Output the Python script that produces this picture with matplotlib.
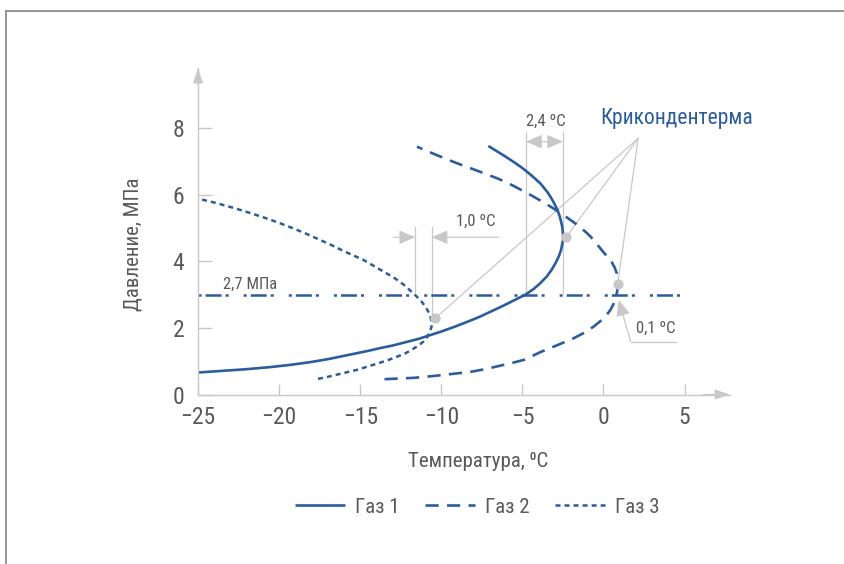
import matplotlib
matplotlib.use("Agg")
import matplotlib.pyplot as plt
from matplotlib import font_manager as fm
from matplotlib.lines import Line2D

# ---------------- data ----------------
gas1_t = [-25.0, -23.5, -22.0, -20.6, -19.3, -18.1, -17.0, -16.1, -15.2, -14.5, -13.8, -13.0,
          -12.2, -11.4, -10.7, -10.0, -9.2, -8.4, -7.6, -6.9, -6.2, -5.5, -4.8, -4.3,
          -3.9, -3.5, -3.2, -2.95, -2.76, -2.62, -2.55, -2.50, -2.49, -2.51, -2.55, -2.62,
          -2.70, -2.86, -3.05, -3.25, -3.45, -3.68, -3.90, -4.20, -4.50, -4.80, -5.12,
          -5.60, -6.10, -6.60, -7.10]
gas1_p = [0.66, 0.71, 0.76, 0.82, 0.89, 0.97, 1.06, 1.15, 1.24, 1.31, 1.39, 1.47,
          1.57, 1.67, 1.78, 1.89, 2.03, 2.18, 2.34, 2.50, 2.66, 2.83, 3.00, 3.17,
          3.34, 3.54, 3.74, 3.95, 4.14, 4.33, 4.50, 4.62, 4.74, 4.90, 5.05, 5.20,
          5.35, 5.56, 5.75, 5.92, 6.07, 6.21, 6.34, 6.47, 6.60, 6.72, 6.84,
          7.00, 7.16, 7.31, 7.46]

gas2_t = [-13.5, -12.6, -11.7, -10.8, -10.0, -9.1, -8.2, -7.3, -6.5, -5.7, -4.9, -3.9,
          -2.9, -1.83, -1.2, -0.6, -0.2, 0.15, 0.43, 0.62, 0.76, 0.84, 0.88, 0.87,
          0.82, 0.68, 0.50, 0.23, -0.05, -0.3, -0.55, -0.8, -1.1, -1.4, -1.7, -2.04,
          -2.6, -3.2, -3.85, -4.5, -5.0, -5.5, -6.0, -6.56, -7.2, -7.8, -8.4, -9.03,
          -9.7, -10.3, -10.9, -11.5]
gas2_p = [0.46, 0.48, 0.50, 0.54, 0.58, 0.63, 0.68, 0.76, 0.85, 0.94, 1.04, 1.27,
          1.47, 1.69, 1.85, 2.04, 2.20, 2.36, 2.54, 2.72, 2.90, 3.08, 3.30, 3.47,
          3.64, 3.82, 3.98, 4.14, 4.30, 4.45, 4.60, 4.74, 4.88, 5.00, 5.12, 5.24,
          5.43, 5.62, 5.81, 5.99, 6.12, 6.25, 6.37, 6.49, 6.61, 6.72, 6.83, 6.94,
          7.07, 7.19, 7.31, 7.44]

gas3_t = [-17.6, -17.0, -16.4, -15.8, -15.2, -14.6, -14.0, -13.3, -12.7, -12.2, -11.8,
          -11.4, -11.1, -10.9, -10.8, -10.68, -10.6, -10.62, -10.7, -10.95, -11.3, -11.8,
          -12.3, -12.9, -13.6, -14.2, -14.8, -15.4, -16.0, -16.8, -17.7, -18.4, -19.2,
          -20.0, -20.8, -21.8, -22.8, -23.9, -25.0]
gas3_p = [0.47, 0.53, 0.60, 0.67, 0.74, 0.83, 0.92, 1.03, 1.14, 1.24, 1.35,
          1.47, 1.59, 1.70, 1.80, 1.92, 2.04, 2.22, 2.39, 2.62, 2.84, 3.07,
          3.29, 3.50, 3.70, 3.87, 4.04, 4.17, 4.30, 4.49, 4.69, 4.84, 5.00,
          5.15, 5.29, 5.45, 5.60, 5.75, 5.88]

line_p = 3.0                      # level of the dash-dot line
line_t = [-25.0, 5.0]

crico_t = [-10.37, -2.30, 0.88]   # cricondentherm markers
crico_p = [2.29, 4.72, 3.32]

legend_labels = ["Газ 1", "Газ 2", "Газ 3"]
x_ticks = [-25, -20, -15, -10, -5, 0, 5]
y_ticks = [0, 2, 4, 6, 8]

# ---------------- font: prefer a narrow / condensed face ----------------
def pick_condensed():
    prefs = ["Liberation Sans Narrow", "Roboto Condensed", "Noto Sans Condensed",
             "Open Sans Condensed", "DejaVu Sans Condensed"]
    cands = []
    for f in fm.fontManager.ttflist:
        nm = f.name.lower()
        fn = f.fname.lower()
        cond = ("narrow" in nm or "condensed" in nm or "condensed" in fn or "narrow" in fn
                or str(f.stretch) in ("condensed", "semi-condensed", "extra-condensed"))
        if cond and f.style == "normal" and f.weight in (400, "normal", "regular") \
                and "bold" not in fn and "light" not in fn and "oblique" not in fn:
            cands.append(f)
    for p in prefs:
        for f in cands:
            if f.name == p:
                return f
    return cands[0] if cands else None

cf = pick_condensed()
if cf is not None:
    fm.fontManager.addfont(cf.fname)
    main_family = fm.FontProperties(fname=cf.fname).get_name()
    plt.rcParams["font.family"] = [main_family, "DejaVu Sans"]
    plt.rcParams["font.stretch"] = cf.stretch
else:
    plt.rcParams["font.family"] = ["DejaVu Sans"]
plt.rcParams["lines.scale_dashes"] = False

BLUE = "#2b5c9b"
TXT = "#595959"
GRAY = "#c8c8c8"

fig = plt.figure(figsize=(8.45, 5.64), dpi=100)
ax = fig.add_axes([198 / 845, 1 - 394.5 / 564, (730 - 198) / 845, (394.5 - 68) / 564])
ax.set_xlim(-25, 7.8)
ax.set_ylim(0, 9.8)

# frame of the picture
fig.add_artist(Line2D([6 / 845, 1.0], [1 - 11 / 564, 1 - 11 / 564], color="#8c8c8c", lw=1.3,
                      transform=fig.transFigure))
fig.add_artist(Line2D([6 / 845, 6 / 845], [0, 1 - 11 / 564], color="#8c8c8c", lw=1.3,
                      transform=fig.transFigure))

# axes
for s in ["top", "right"]:
    ax.spines[s].set_visible(False)
for s in ["left", "bottom"]:
    ax.spines[s].set_color(GRAY)
    ax.spines[s].set_linewidth(1.0)
ax.annotate("", xy=(1, 0), xytext=(0.95, 0), xycoords="axes fraction",
            arrowprops=dict(arrowstyle="-|>,head_length=0.9,head_width=0.3", color=GRAY,
                            lw=1.0, shrinkA=0, shrinkB=0), annotation_clip=False)
ax.annotate("", xy=(0, 1), xytext=(0, 0.95), xycoords="axes fraction",
            arrowprops=dict(arrowstyle="-|>,head_length=0.9,head_width=0.3", color=GRAY,
                            lw=1.0, shrinkA=0, shrinkB=0), annotation_clip=False)

ax.set_xticks(x_ticks)
ax.set_yticks(y_ticks)
ax.tick_params(axis="both", direction="in", colors=GRAY, labelcolor=TXT, labelsize=17, width=1.0)
ax.tick_params(axis="y", length=10, pad=10)
ax.tick_params(axis="x", length=8, pad=8)

ax.set_xlabel("Температура, ⁰C", fontsize=15, color=TXT)
ax.xaxis.set_label_coords(0.527, -0.204)
ax.xaxis.label.set_va("center")
ax.set_ylabel("Давление, МПа", fontsize=15, color=TXT)
ax.yaxis.set_label_coords(-0.122, 0.459)
ax.yaxis.label.set_va("center")

# curves
l1, = ax.plot(gas1_t, gas1_p, color=BLUE, lw=1.9, solid_capstyle="butt",
              solid_joinstyle="round", label=legend_labels[0])
l2, = ax.plot(gas2_t, gas2_p, color=BLUE, lw=1.9, ls=(0, (9.5, 6.0)), label=legend_labels[1])
l3, = ax.plot(gas3_t, gas3_p, color=BLUE, lw=1.8, ls=(0, (3.6, 2.9)), label=legend_labels[2])
ax.plot(line_t, [line_p, line_p], color=BLUE, lw=1.8,
        ls=(0, (2.2, 2.9, 11.5, 2.9, 2.2, 10.8)))

# annotation guides
gl = dict(color=GRAY, lw=0.9, zorder=1)
ax.plot([-4.78, -4.78], [3.0, 7.87], **gl)
ax.plot([-2.49, -2.49], [3.05, 7.87], **gl)
ax.plot([-11.6, -11.6], [3.0, 5.04], **gl)
ax.plot([-10.6, -10.6], [2.34, 5.04], **gl)

arr = dict(color=GRAY, lw=0.9, shrinkA=0, shrinkB=0, mutation_scale=14)
ax.annotate("", xy=(-2.49, 7.59), xytext=(-4.78, 7.59),
            arrowprops=dict(arrowstyle="<|-|>,head_length=0.7,head_width=0.3", **arr))
ax.annotate("", xy=(-11.6, 4.72), xytext=(-12.94, 4.72),
            arrowprops=dict(arrowstyle="-|>,head_length=0.7,head_width=0.3", **arr))
ax.annotate("", xy=(-10.6, 4.72), xytext=(-6.46, 4.72),
            arrowprops=dict(arrowstyle="-|>,head_length=0.7,head_width=0.3", **arr))
ax.plot([1.67, 4.44], [1.59, 1.59], **gl)
ax.annotate("", xy=(0.94, 2.84), xytext=(1.67, 1.59),
            arrowprops=dict(arrowstyle="-|>,head_length=0.7,head_width=0.3", **arr))

# leader lines to cricondentherm points
apex = (2.14, 7.69)
for t, p in zip(crico_t, crico_p):
    ax.plot([apex[0], t], [apex[1], p], color=GRAY, lw=0.9, zorder=1)
ax.scatter(crico_t, crico_p, s=55, color=GRAY, zorder=5, linewidths=0)

# texts
ax.text(-3.55, 8.19, "2,4 ºC", fontsize=12, color=TXT, ha="center", va="center")
ax.text(-7.9, 5.19, "1,0 ºC", fontsize=12, color=TXT, ha="center", va="center")
ax.text(3.2, 1.99, "0,1 ºC", fontsize=12, color=TXT, ha="center", va="center")
ax.text(-21.8, 3.31, "2,7 МПа", fontsize=12, color=TXT, ha="center", va="center")
ax.text(-0.19, 8.29, "Крикондентерма", fontsize=15.5, color=BLUE, ha="left", va="center")

leg = ax.legend(handles=[l1, l2, l3], loc="center", bbox_to_anchor=(0.525, -0.345), ncol=3,
                frameon=False, fontsize=15, handlelength=2.4, handletextpad=0.45,
                columnspacing=1.25, labelcolor=TXT)

fig.savefig("out.png", dpi=100)
